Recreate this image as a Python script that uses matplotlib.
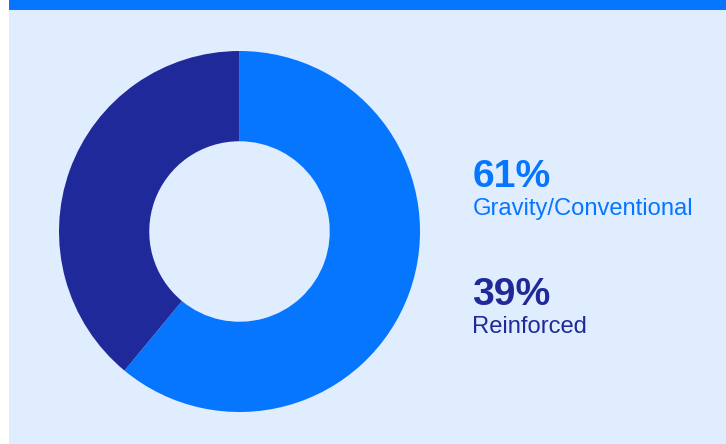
import matplotlib.pyplot as plt

labels = ['Gravity/Conventional', 'Reinforced']
shares = [61, 39]
colors = ['#0676FF', '#20299A']

W, H = 726, 444
bg = '#DFEDFE'

fig = plt.figure(figsize=(W / 100, H / 100), dpi=100)
fig.patch.set_facecolor('white')

# panel background and top accent bar
fig.add_artist(plt.Rectangle((9 / W, 0), 1 - 9 / W, 1, transform=fig.transFigure,
                             facecolor=bg, edgecolor='none', zorder=0))
fig.add_artist(plt.Rectangle((9 / W, 1 - 10 / H), 1 - 9 / W, 10 / H, transform=fig.transFigure,
                             facecolor='#0676FF', edgecolor='none', zorder=1))

# donut
cx, cy, r = 239.5, 231.5, 180.5
ax = fig.add_axes([(cx - r) / W, 1 - (cy + r) / H, 2 * r / W, 2 * r / H])
ax.pie(shares, colors=colors, startangle=90, counterclock=False, radius=1,
       wedgeprops=dict(width=0.5, edgecolor='none'))
ax.set_xlim(-1, 1)
ax.set_ylim(-1, 1)
ax.set_aspect('equal')
ax.axis('off')

# legend text on the right
font = 'Liberation Sans'
tx = 472.5 / W
rows = [(186.7, 215.3), (305.0, 332.7)]
for (pct_y, lab_y), label, share, c in zip(rows, labels, shares, colors):
    fig.text(tx, 1 - pct_y / H, f'{share}%', color=c, fontsize=28.2, fontweight='bold',
             family=font, va='baseline', ha='left')
    fig.text(tx, 1 - lab_y / H, label, color=c, fontsize=17.1,
             family=font, va='baseline', ha='left')

fig.savefig('out.png', dpi=100, facecolor=fig.get_facecolor())
